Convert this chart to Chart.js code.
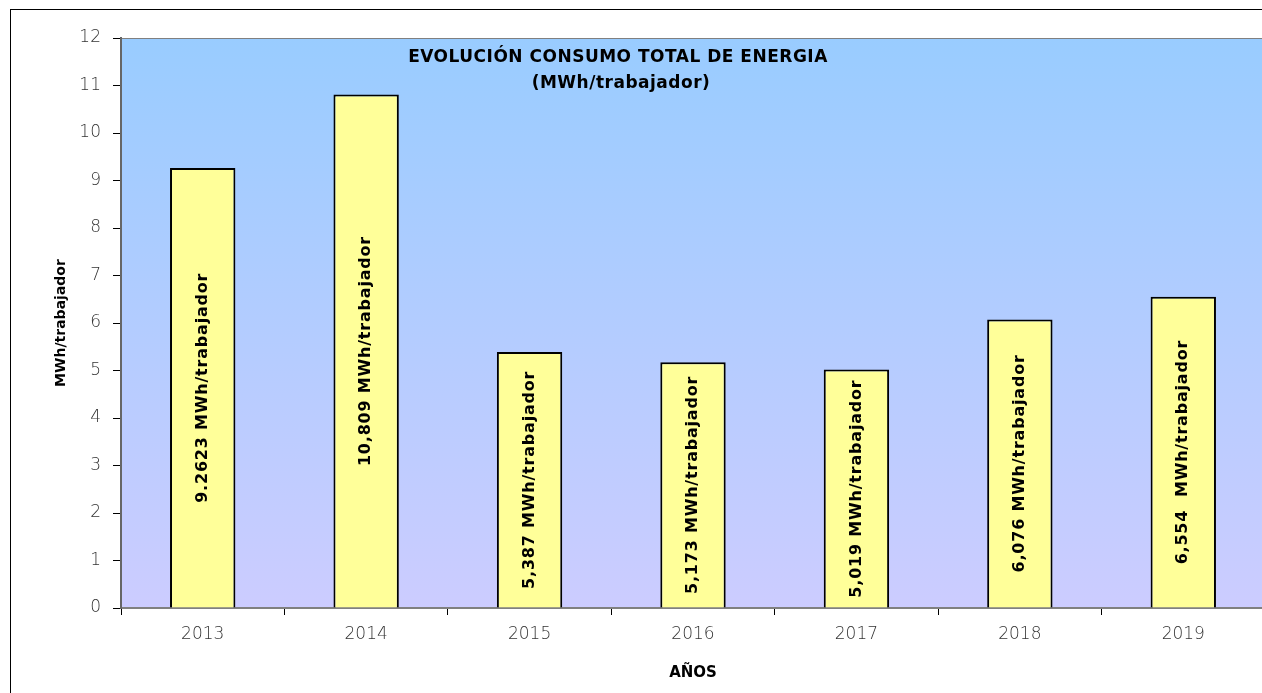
<!DOCTYPE html>
<html>
<head>
<meta charset="utf-8">
<script src="https://cdn.jsdelivr.net/npm/chart.js@4"></script>
<style>
  html, body { margin: 0; padding: 0; background: #fff; overflow: hidden; }
  #wrap { position: relative; width: 1262px; height: 693px; overflow: hidden; }
  #frame { position: absolute; left: 10px; top: 9px; width: 1300px; height: 700px; border-left: 1px solid #000; border-top: 1px solid #000; }
  #holder { position: absolute; left: 0; top: 0; width: 1270px; height: 693px; }
</style>
</head>
<body>
<div id="wrap">
  <div id="frame"></div>
  <div id="holder"><canvas id="chart"></canvas></div>
</div>
<script>
const years = ['2013', '2014', '2015', '2016', '2017', '2018', '2019'];
const consumo = [9.2623, 10.809, 5.387, 5.173, 5.019, 6.076, 6.554];
const consumoText = ['9.2623', '10,809', '5,387', '5,173', '5,019', '6,076', '6,554 '];
const unidad = 'MWh/trabajador';
const titleLines = ['EVOLUCIÓN CONSUMO TOTAL DE ENERGIA', '(MWh/trabajador)'];

const gothic = '"DejaVu Sans", sans-serif';

// gradient behind the bars
const plotBackground = {
    id: 'plotBackground',
    beforeDraw(chart) {
        const { ctx, chartArea: a } = chart;
        const g = ctx.createLinearGradient(0, a.top, 0, a.bottom);
        g.addColorStop(0, '#99CCFF');
        g.addColorStop(1, '#CCCCFF');
        ctx.save();
        ctx.fillStyle = g;
        ctx.fillRect(a.left, a.top, a.right - a.left, a.bottom - a.top);
        ctx.strokeStyle = '#808080';
        ctx.lineWidth = 1;
        ctx.beginPath();
        ctx.moveTo(a.left, a.top + 0.5);
        ctx.lineTo(a.right, a.top + 0.5);
        ctx.stroke();
        ctx.restore();
    }
};

// vertical text inside each bar + title inside the plot
const barText = {
    id: 'barText',
    afterDatasetsDraw(chart) {
        const { ctx, chartArea: a } = chart;
        const bars = chart.getDatasetMeta(0).data;
        ctx.save();
        ctx.fillStyle = '#000';
        ctx.font = 'bold 16px ' + gothic;
        ctx.letterSpacing = '0.8px';
        ctx.textAlign = 'center';
        ctx.textBaseline = 'middle';
        bars.forEach((bar, i) => {
            ctx.save();
            ctx.translate(bar.x, (bar.y + bar.base) / 2);
            ctx.rotate(-Math.PI / 2);
            ctx.fillText(consumoText[i] + ' ' + unidad, 0, 0);
            ctx.restore();
        });

        ctx.font = 'bold 17px ' + gothic;
        ctx.letterSpacing = '0.5px';
        const cx = a.left + 497;
        ctx.fillText(titleLines[0], cx, a.top + 20);
        ctx.fillText(titleLines[1], cx + 3, a.top + 46);
        ctx.restore();
    }
};

new Chart(document.getElementById('chart'), {
    type: 'bar',
    data: {
        labels: years,
        datasets: [{
            data: consumo,
            backgroundColor: '#FFFF99',
            borderColor: '#000',
            borderWidth: 2,
            barPercentage: 0.4,
            categoryPercentage: 1
        }]
    },
    options: {
        responsive: true,
        maintainAspectRatio: false,
        animation: false,
        layout: { padding: { left: 0, top: 38, right: 5, bottom: 0 } },
        plugins: {
            legend: { display: false },
            tooltip: { enabled: false }
        },
        scales: {
            x: {
                offset: true,
                afterFit(scale) { scale.height = 85; },
                grid: { display: true, offset: true, drawOnChartArea: false, tickLength: 7, color: '#000' },
                border: { color: '#808080', width: 2 },
                ticks: { color: '#333', font: { family: gothic, size: 17, weight: '200' }, padding: 9 },
                title: { display: true, text: 'AÑOS', color: '#000', font: { family: gothic, size: 15, weight: 'bold' }, padding: { top: 0, bottom: 11 } }
            },
            y: {
                min: 0,
                max: 12,
                afterFit(scale) { scale.width = 121; },
                grid: { display: true, drawOnChartArea: false, tickLength: 8, color: '#000' },
                border: { color: '#666', width: 2 },
                ticks: { stepSize: 1, color: '#333', font: { family: gothic, size: 17, weight: '200' }, padding: 12 },
                title: { display: true, text: unidad, color: '#000', font: { family: gothic, size: 14, weight: 'bold' }, padding: { top: 53, bottom: 0 } }
            }
        }
    },
    plugins: [plotBackground, barText]
});
</script>
</body>
</html>
